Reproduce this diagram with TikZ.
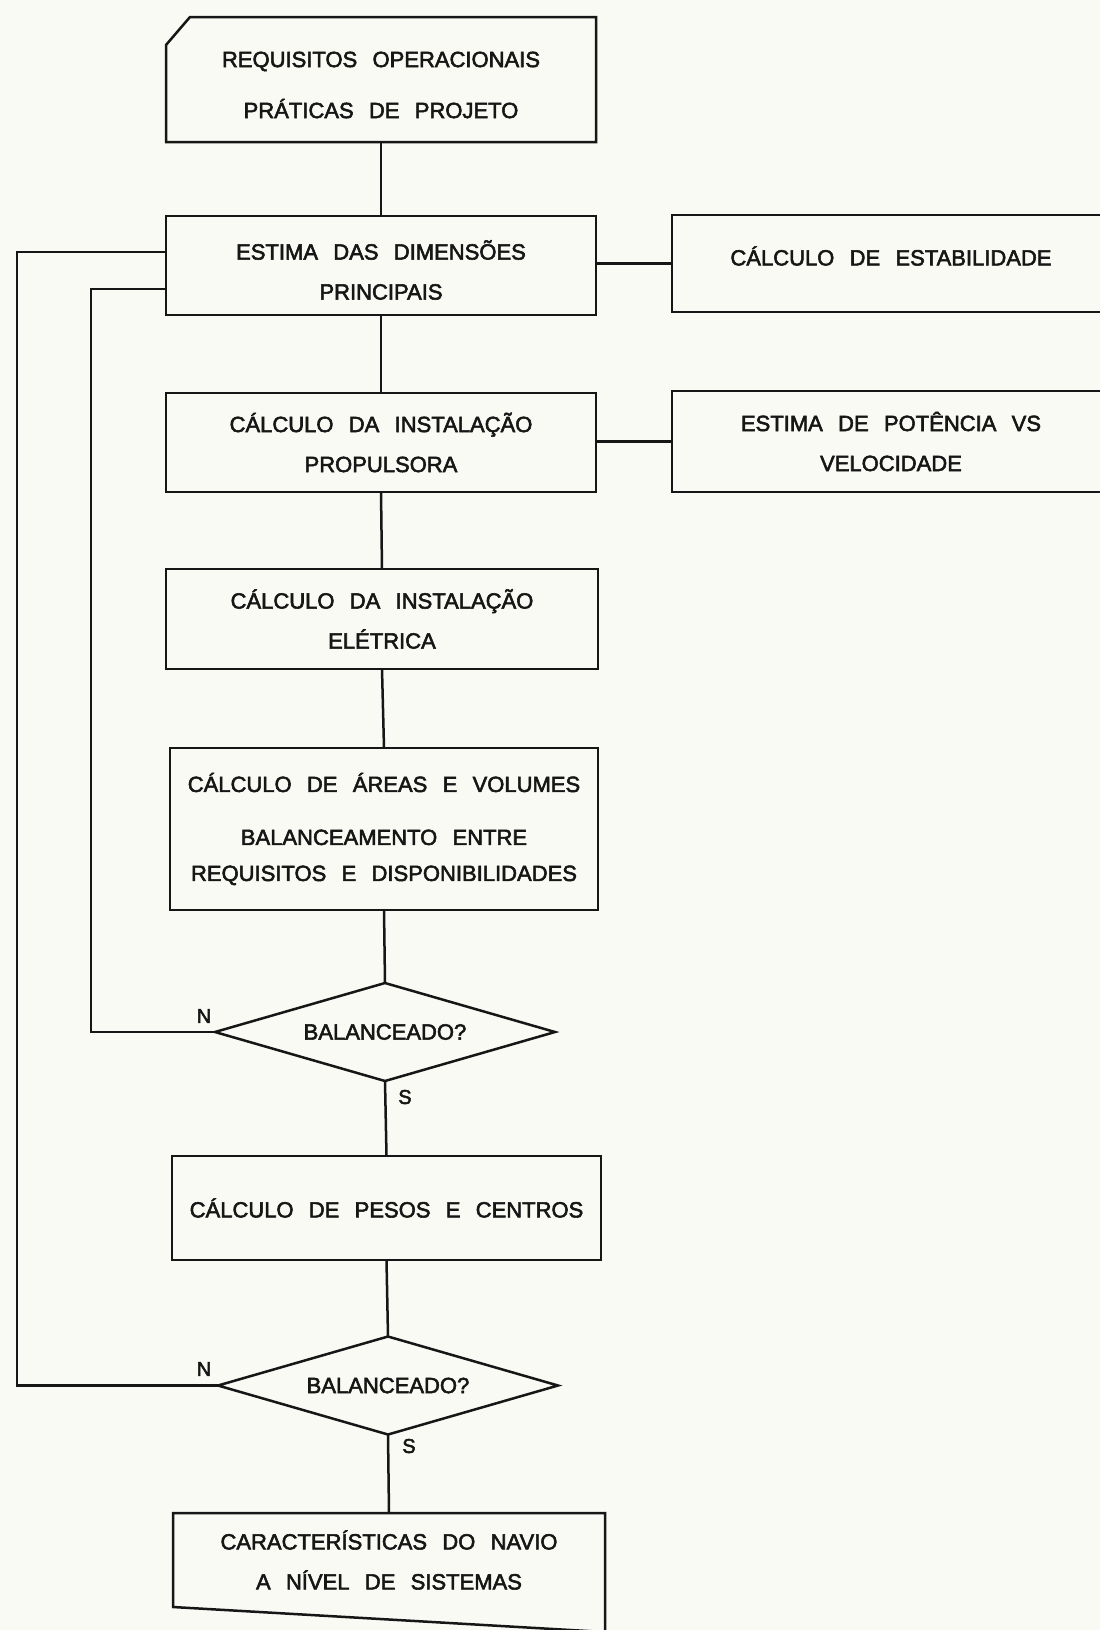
\documentclass[tikz,border=0pt]{standalone}
\usepackage{fontspec}
\setmainfont{Liberation Sans}[WordSpace=2.5,FakeBold=2.5]
\definecolor{paper}{RGB}{249,250,243}
\definecolor{ink}{RGB}{22,22,22}
\begin{document}
\begin{tikzpicture}[x=1pt,y=-1pt,
  every node/.style={font=\fontsize{22}{40}\selectfont, align=center, inner sep=0pt, outer sep=0pt, text=ink},
  boxnode/.style={draw=ink, line width=2.5pt, rectangle},
  shapeonly/.style={rectangle},
  decide/.style={rectangle, minimum width=340pt, minimum height=98pt},
  link/.style={draw=ink, line width=2.5pt},
  lbl/.style={font=\fontsize{20}{24}\selectfont}]
\fill[paper] (0,0) rectangle (1100,1630);
\useasboundingbox (0,0) rectangle (1100,1630);
\clip (0,0) rectangle (1100,1630);

% main column
\node[shapeonly, minimum width=430pt, minimum height=125pt] (req) at (381,79.5) {};
\node at (381,85) {REQUISITOS OPERACIONAIS\\[11pt]PRÁTICAS DE PROJETO};
\draw[link, line join=miter] ([yshift=-28pt]req.north west) -- ([xshift=24pt]req.north west) -- (req.north east) -- (req.south east) -- (req.south west) -- cycle;

\node[boxnode, minimum width=430pt, minimum height=99pt] (dim) at (381,265.5) {};
\node at (381,270) {ESTIMA DAS DIMENSÕES\\PRINCIPAIS};
\node[boxnode, minimum width=430pt, minimum height=99pt] (prop) at (381,442.5) {CÁLCULO DA INSTALAÇÃO\\PROPULSORA};
\node[boxnode, minimum width=432pt, minimum height=100pt] (elet) at (382,619) {CÁLCULO DA INSTALAÇÃO\\ELÉTRICA};
\node[boxnode, minimum width=428pt, minimum height=162pt] (areas) at (384,829) {CÁLCULO DE ÁREAS E VOLUMES\\[13pt]BALANCEAMENTO ENTRE\\[-4pt]REQUISITOS E DISPONIBILIDADES};
\node[decide] (d1) at (385,1032) {BALANCEADO?};
\draw[link, line join=miter] (d1.north) -- (d1.east) -- (d1.south) -- (d1.west) -- cycle;
\node[boxnode, minimum width=429pt, minimum height=104pt] (pesos) at (386.5,1208) {CÁLCULO DE PESOS E CENTROS};
\node[decide] (d2) at (388,1385.5) {BALANCEADO?};
\draw[link, line join=miter] (d2.north) -- (d2.east) -- (d2.south) -- (d2.west) -- cycle;
\node[shapeonly, minimum width=432pt, minimum height=94pt] (bot) at (389,1560) {CARACTERÍSTICAS DO NAVIO\\A NÍVEL DE SISTEMAS};
\draw[link, line join=miter] (bot.south west) -- (bot.north west) -- (bot.north east) -- ([yshift=-25pt]bot.south east) -- cycle;

% side boxes
\node[boxnode, minimum width=438pt, minimum height=97pt] (estab) at (891,263.5) {};
\node at (891,256) {CÁLCULO DE ESTABILIDADE};
\node[boxnode, minimum width=438pt, minimum height=101pt] (pot) at (891,441.5) {ESTIMA DE POTÊNCIA VS\\VELOCIDADE};

% connectors
\draw[link] (req.south) -- (dim.north);
\draw[link] (dim.south) -- (prop.north);
\draw[link] (prop.south) -- (elet.north);
\draw[link] (elet.south) -- (areas.north);
\draw[link] (areas.south) -- (d1.north);
\draw[link] (d1.south) -- (pesos.north);
\draw[link] (pesos.south) -- (d2.north);
\draw[link] (d2.south) -- (bot.north);
\draw[link] (estab.west) -- (estab.west -| dim.east);
\draw[link] (pot.west) -- (pot.west -| prop.east);

% feedback loops
\coordinate (in1) at (166,289);
\coordinate (in2) at (166,252);
\coordinate (c1) at (91,289);
\coordinate (c2) at (17,252);
\draw[link, line join=miter] (d1.west) -| (c1) -- (in1);
\draw[link, line join=miter] (d2.west) -| (c2) -- (in2);

% labels
\node[lbl] (n1) at (204,1016) {N};
\node[lbl] (s1) at (405,1097) {S};
\node[lbl] (n2) at (204,1369) {N};
\node[lbl] (s2) at (409,1446) {S};
\end{tikzpicture}
\end{document}
